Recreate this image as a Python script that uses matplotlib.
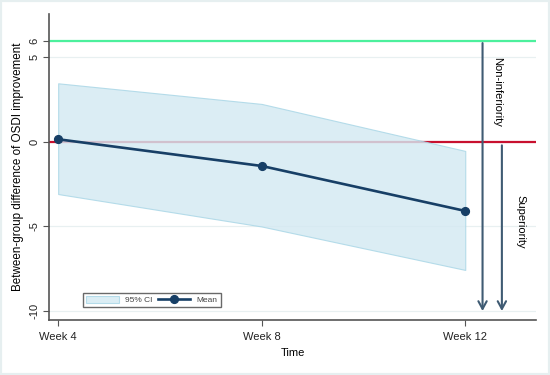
import matplotlib
matplotlib.use("Agg")
import matplotlib.pyplot as plt
from matplotlib.patches import Rectangle

plt.rcParams['font.family'] = ['Liberation Sans', 'DejaVu Sans']

weeks = [4, 8, 12]
tick_labels = ["Week 4", "Week 8", "Week 12"]
mean = [0.16, -1.42, -4.08]
ci_upper = [3.47, 2.25, -0.53]
ci_lower = [-3.08, -5.0, -7.57]
y_ticks = [-10, -5, 0, 5, 6]
non_inf_margin = 6
sup_margin = 0
arrow_x = [12.34, 12.72]
arrow_bottom = -10

fig = plt.figure(figsize=(5.5, 3.75), dpi=100)
fig.patch.set_facecolor('white')
fig.patches.append(Rectangle((0, 0), 1, 1, transform=fig.transFigure, fill=False,
                             edgecolor='#e6eff0', linewidth=3, zorder=0))
ax = fig.add_axes([0.0891, 0.1467, 0.8854, 0.816])

ax.set_xlim(3.82, 13.39)
ax.set_ylim(-10.53, 7.57)

ax.grid(axis='y', color='#e8f0f1', linewidth=0.9, zorder=0)
ax.set_axisbelow(True)

ax.axhline(non_inf_margin, color='#4cf09d', linewidth=1.6, zorder=1)
ax.axhline(sup_margin, color='#c8102e', linewidth=1.6, zorder=1)

ax.fill_between(weeks, ci_lower, ci_upper, facecolor='#d4e9f2', alpha=0.82,
                edgecolor='#a8d6e6', linewidth=0.8, zorder=2, label='95% CI')
ax.plot(weeks, mean, color='#173f66', linewidth=1.9, marker='o', markersize=5.6,
        zorder=4, label='Mean')

arrow_col = '#3f5b73'
ax.annotate('', xy=(arrow_x[0], arrow_bottom), xytext=(arrow_x[0], 5.85),
            arrowprops=dict(arrowstyle='->,head_length=0.55,head_width=0.3',
                            color=arrow_col, lw=1.5, shrinkA=0, shrinkB=0), zorder=5)
ax.annotate('', xy=(arrow_x[1], arrow_bottom), xytext=(arrow_x[1], -0.2),
            arrowprops=dict(arrowstyle='->,head_length=0.55,head_width=0.3',
                            color=arrow_col, lw=1.5, shrinkA=0, shrinkB=0), zorder=5)
ax.text(12.63, 5.0, 'Non-inferiority', rotation=270, ha='center', va='top', fontsize=8)
ax.text(13.08, -3.14, 'Superiority', rotation=270, ha='center', va='top', fontsize=8)

ax.set_xticks(weeks)
ax.set_xticklabels(tick_labels)
ax.set_yticks(y_ticks)
ax.set_yticklabels([str(t) for t in y_ticks], rotation=90, va='center')
ax.tick_params(axis='both', labelsize=8, colors='#555555', labelcolor='#222222',
               length=4, width=0.8)
ax.tick_params(axis='x', pad=5)
ax.tick_params(axis='y', pad=3)

for s in ['top', 'right']:
    ax.spines[s].set_visible(False)
for s in ['left', 'bottom']:
    ax.spines[s].set_color('#555555')
    ax.spines[s].set_linewidth(1.2)

ax.set_xlabel('Time', fontsize=8, labelpad=4)
ax.set_ylabel('Between-group difference of OSDI improvement', fontsize=8.4, labelpad=4)

leg = ax.legend(loc='lower left', bbox_to_anchor=(0.07, 0.042), ncol=2, fontsize=6,
                frameon=True, fancybox=False, handlelength=3.9, handleheight=1.0,
                handletextpad=0.8, columnspacing=0.6, borderpad=0.35,
                borderaxespad=0)
leg.get_frame().set_edgecolor('#444444')
leg.get_frame().set_linewidth(1.0)
for t in leg.get_texts():
    t.set_color('#444444')

fig.savefig('out.png', dpi=100)
